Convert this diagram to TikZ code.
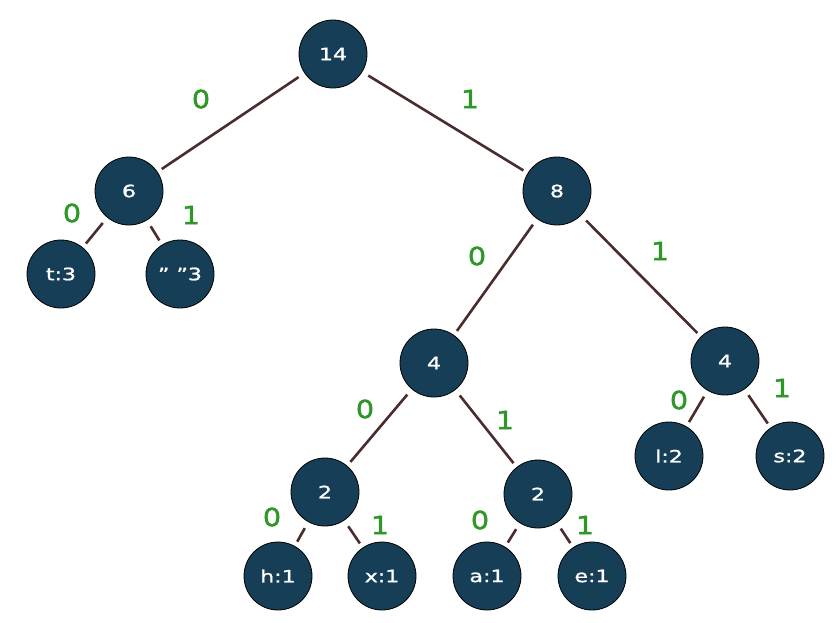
\documentclass[tikz,border=0pt]{standalone}
\usepackage{fontspec}
\setmainfont{DejaVu Sans}
\newfontfamily\nodefont[FakeStretch=1.3,FakeBold=1.2]{DejaVu Sans}
\newfontfamily\labfont[FakeStretch=1.15,FakeBold=1.5]{DejaVu Sans}
\definecolor{nodefill}{RGB}{22,62,86}
\definecolor{edgecol}{RGB}{74,44,44}
\definecolor{labgreen}{RGB}{47,150,40}
\begin{document}
\begin{tikzpicture}[x=1pt,y=-1pt,
  hnode/.style={circle,draw=black,line width=0.8pt,fill=nodefill,minimum size=68pt,inner sep=0pt,text=white,font=\nodefont\fontsize{17}{17}\selectfont},
  hedge/.style={draw=edgecol,line width=2.6pt,shorten <=7pt,shorten >=5pt},
  bitlab/.style={text=labgreen,font=\labfont\fontsize{25}{25}\selectfont}]
\useasboundingbox (0,0) rectangle (840,622);
\node[hnode] (r) at (333,54) {14};
\node[hnode] (n6) at (129,191) {6};
\node[hnode] (n8) at (557,191) {8};
\node[hnode] (t) at (61,274) {t:3};
\node[hnode] (sp) at (180,274) {” ”3};
\node[hnode] (n4a) at (434,363) {4};
\node[hnode] (n4b) at (725,361) {4};
\node[hnode] (l) at (669,456) {l:2};
\node[hnode] (s) at (790,456) {s:2};
\node[hnode] (n2a) at (325,492) {2};
\node[hnode] (n2b) at (538,494) {2};
\node[hnode] (h) at (278,576) {h:1};
\node[hnode] (x) at (382,576) {x:1};
\node[hnode] (a) at (487,576) {a:1};
\node[hnode] (e) at (592,576) {e:1};
\draw[hedge] (r) -- (n6);
\draw[hedge] (r) -- (n8);
\draw[hedge] (n6) -- (t);
\draw[hedge] (n6) -- (sp);
\draw[hedge] (n8) -- (n4a);
\draw[hedge] (n8) -- (n4b);
\draw[hedge] (n4b) -- (l);
\draw[hedge] (n4b) -- (s);
\draw[hedge] (n4a) -- (n2a);
\draw[hedge] (n4a) -- (n2b);
\draw[hedge] (n2a) -- (h);
\draw[hedge] (n2a) -- (x);
\draw[hedge] (n2b) -- (a);
\draw[hedge] (n2b) -- (e);
\node[bitlab] (b1) at (201,99) {0};
\node[bitlab] (b2) at (470,99) {1};
\node[bitlab] (b3) at (72,213) {0};
\node[bitlab] (b4) at (191,215) {1};
\node[bitlab] (b5) at (477,256) {0};
\node[bitlab] (b6) at (660,251) {1};
\node[bitlab] (b7) at (365,409) {0};
\node[bitlab] (b8) at (505,420) {1};
\node[bitlab] (b9) at (679,400) {0};
\node[bitlab] (b10) at (782,388) {1};
\node[bitlab] (b11) at (272,517) {0};
\node[bitlab] (b12) at (380,525) {1};
\node[bitlab] (b13) at (480,520) {0};
\node[bitlab] (b14) at (585,525) {1};
\end{tikzpicture}
\end{document}
